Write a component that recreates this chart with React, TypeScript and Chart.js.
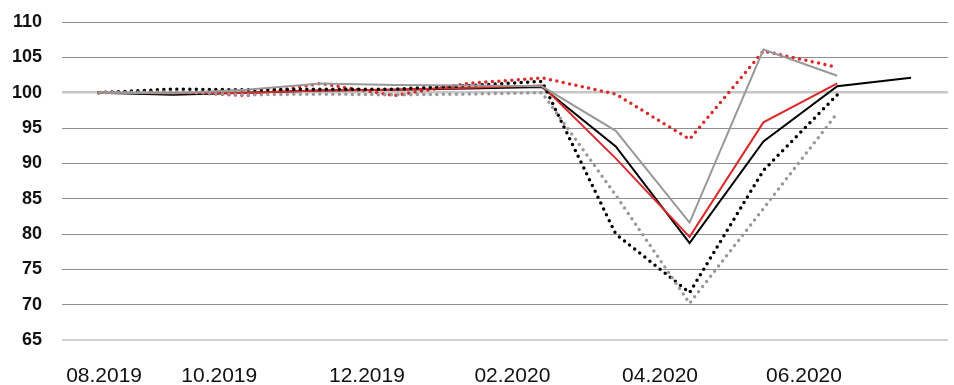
import React, { useEffect, useRef } from "react";
import { Chart, registerables } from "chart.js";

Chart.register(...registerables);

const months = [
  "08.2019", "09.2019", "10.2019", "11.2019", "12.2019", "01.2020",
  "02.2020", "03.2020", "04.2020", "05.2020", "06.2020", "07.2020",
];

const xTickLabels = ["08.2019", "10.2019", "12.2019", "02.2020", "04.2020", "06.2020"];
const xTickPos = [0.07, 1.63, 3.63, 5.6, 7.6, 9.55];

const blackSolid = [100, 99.7, 100.0, 100.3, 100.4, 100.6, 100.8, 92.4, 78.7, 93.1, 100.9, 102.1];
const redSolid = [100, 99.9, 100.0, 100.3, 100.4, 100.7, 101.0, 90.7, 79.6, 95.8, 101.3, null];
const greySolid = [100, 99.9, 100.4, 101.3, 101.1, 101.0, 100.9, 94.6, 81.6, 106.1, 102.4, null];
const blackDotted = [100, 100.5, 100.4, 100.5, 100.5, 101.0, 101.6, 80.0, 71.7, 89.0, 99.7, null];
const redDotted = [100, 100.1, 99.6, 101.3, 99.6, 101.3, 102.1, 99.8, 93.4, 105.9, 103.6, null];
const greyDotted = [100, 100.1, 99.7, 99.8, 99.7, 99.8, 100.0, 85.5, 70.2, 83.6, 97.1, null];

const RED = "#dc2a2a";
const GREY = "#999999";
const BLACK = "#000000";

const toPts = (arr: (number | null)[]) => arr.map((v, i) => ({ x: i, y: v }));

export default function App() {
  const ref = useRef<HTMLCanvasElement | null>(null);

  useEffect(() => {
    document.body.style.margin = "0";
    if (!ref.current) return;
    const solid = (label: string, data: (number | null)[], color: string) => ({
      label,
      data: toPts(data),
      borderColor: color,
      backgroundColor: color,
      borderWidth: 2,
      pointRadius: 0,
      tension: 0,
      fill: false,
    });
    const dotted = (label: string, data: (number | null)[], color: string) => ({
      label,
      data: toPts(data),
      borderColor: color,
      backgroundColor: color,
      borderWidth: 3.5,
      borderDash: [0, 6.5],
      borderCapStyle: "round" as const,
      pointRadius: 0,
      tension: 0,
      fill: false,
    });
    const chart = new Chart(ref.current, {
      type: "line",
      data: {
        labels: months,
        datasets: [
          dotted("greyDotted", greyDotted, GREY),
          solid("greySolid", greySolid, GREY),
          dotted("blackDotted", blackDotted, BLACK),
          solid("redSolid", redSolid, RED),
          solid("blackSolid", blackSolid, BLACK),
          dotted("redDotted", redDotted, RED),
        ],
      },
      options: {
        animation: false,
        responsive: false,
        maintainAspectRatio: false,
        layout: { padding: { top: 22, right: 6, left: 0, bottom: 0 } },
        plugins: { legend: { display: false }, tooltip: { enabled: false } },
        scales: {
          x: {
            type: "linear",
            min: -0.5,
            max: 11.5,
            grid: { display: false },
            border: { display: false },
            afterBuildTicks: (scale: any) => {
              scale.ticks = xTickPos.map((v) => ({ value: v }));
            },
            afterFit: (scale: any) => {
              scale.height = 45;
              scale.paddingLeft = 0;
              scale.paddingRight = 0;
            },
            ticks: {
              autoSkip: false,
              maxRotation: 0,
              padding: 16,
              color: "#111111",
              font: { family: "'Liberation Sans', Arial, sans-serif", size: 21 },
              callback: (_v: any, i: number) => xTickLabels[i],
            },
          },
          y: {
            min: 65,
            max: 110,
            border: { display: false },
            afterFit: (scale: any) => {
              scale.width = 62;
              scale.paddingTop = 0;
              scale.paddingBottom = 0;
            },
            grid: {
              drawTicks: false,
              color: (ctx: any) =>
                ctx.tick && ctx.tick.value === 100
                  ? "#c6c6c6"
                  : ctx.tick && ctx.tick.value === 65
                  ? "#d0d0d0"
                  : "#8f8f8f",
              lineWidth: (ctx: any) =>
                ctx.tick && ctx.tick.value === 100 ? 2.5 : ctx.tick && ctx.tick.value === 65 ? 2 : 1,
            },
            ticks: {
              stepSize: 5,
              padding: 20,
              color: "#111111",
              font: { family: "'Liberation Sans', Arial, sans-serif", size: 18, weight: "bold" },
            },
          },
        },
      },
    });
    return () => chart.destroy();
  }, []);

  return (
    <div style={{ position: "absolute", left: 0, top: 0, width: 954, height: 385 }}>
      <canvas ref={ref} width={954} height={385} style={{ width: 954, height: 385 }} />
    </div>
  );
}
